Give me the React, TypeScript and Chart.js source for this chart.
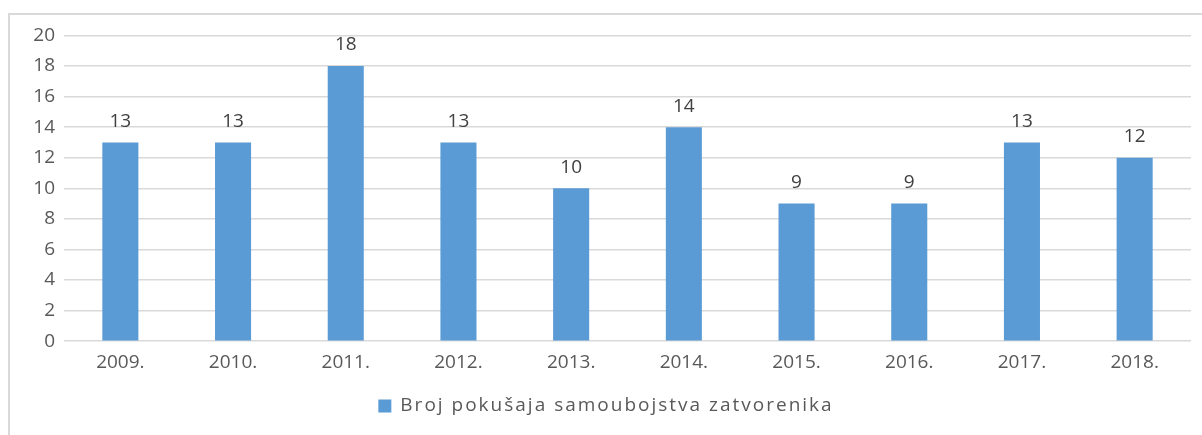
import React, { useEffect, useRef } from "react";
import { Chart, registerables } from "chart.js";

Chart.register(...registerables);

const categories = ["2009.", "2010.", "2011.", "2012.", "2013.", "2014.", "2015.", "2016.", "2017.", "2018."];
const values = [13, 13, 18, 13, 10, 14, 9, 9, 13, 12];
const seriesLabel = "Broj pokušaja samoubojstva zatvorenika";
const yTicks = [0, 2, 4, 6, 8, 10, 12, 14, 16, 18, 20];

const FONT = "'Open Sans', 'Liberation Sans', sans-serif";
const BAR_COLOR = "#5B9BD5";
const TEXT_COLOR = "#595959";

const valueLabels = {
  id: "valueLabels",
  afterDatasetsDraw(chart: any) {
    const ctx = chart.ctx;
    const meta = chart.getDatasetMeta(0);
    ctx.save();
    ctx.font = `19px ${FONT}`;
    ctx.fillStyle = "#404040";
    ctx.textAlign = "center";
    ctx.textBaseline = "middle";
    meta.data.forEach((bar: any, i: number) => {
      ctx.fillText(String(values[i]), bar.x, bar.y - 21);
    });
    ctx.restore();
  },
};

const bottomLegend = {
  id: "bottomLegend",
  afterDraw(chart: any) {
    const ctx = chart.ctx;
    ctx.save();
    ctx.font = `19px ${FONT}`;
    (ctx as any).letterSpacing = "2px";
    const tw = ctx.measureText(seriesLabel).width;
    const box = 13;
    const gap = 9;
    const total = box + gap + tw;
    const x0 = chart.width / 2 - total / 2;
    const cy = 391;
    ctx.fillStyle = BAR_COLOR;
    ctx.fillRect(x0, cy - box / 2, box, box);
    ctx.fillStyle = TEXT_COLOR;
    ctx.textAlign = "left";
    ctx.textBaseline = "middle";
    ctx.fillText(seriesLabel, x0 + box + gap, cy);
    ctx.restore();
  },
};

export default function App() {
  const ref = useRef<HTMLCanvasElement>(null);
  useEffect(() => {
    document.body.style.overflow = "hidden";
    const chart = new Chart(ref.current!, {
      type: "bar",
      data: {
        labels: categories,
        datasets: [
          {
            label: seriesLabel,
            data: values,
            backgroundColor: BAR_COLOR,
            categoryPercentage: 1,
            barPercentage: 0.32,
          },
        ],
      },
      options: {
        animation: false,
        responsive: false,
        layout: { padding: { left: 0, right: 11, top: 8, bottom: 51 } },
        plugins: {
          tooltip: { enabled: false },
          legend: { display: false },
        },
        scales: {
          x: {
            grid: { display: false, drawTicks: false },
            border: { display: false },
            ticks: { color: TEXT_COLOR, font: { family: FONT, size: 19 }, padding: 10 },
          },
          y: {
            min: 0,
            max: 20,
            afterBuildTicks(axis: any) {
              axis.ticks = yTicks.map((v) => ({ value: v }));
            },
            afterFit(axis: any) {
              axis.width = 54;
            },
            grid: { color: "#d9d9d9", lineWidth: 1.5, drawTicks: false },
            border: { display: false },
            ticks: { color: TEXT_COLOR, font: { family: FONT, size: 19 }, padding: 9 },
          },
        },
      },
      plugins: [valueLabels, bottomLegend],
    });
    return () => chart.destroy();
  }, []);
  return (
    <div
      style={{
        position: "absolute",
        left: 8,
        top: 13,
        width: 1194,
        height: 422,
        borderLeft: "2px solid #d9d9d9",
        borderTop: "2px solid #d9d9d9",
        boxSizing: "border-box",
        overflow: "hidden",
        background: "#fff",
      }}
    >
      <canvas ref={ref} width={1192} height={420} style={{ display: "block" }} />
    </div>
  );
}
